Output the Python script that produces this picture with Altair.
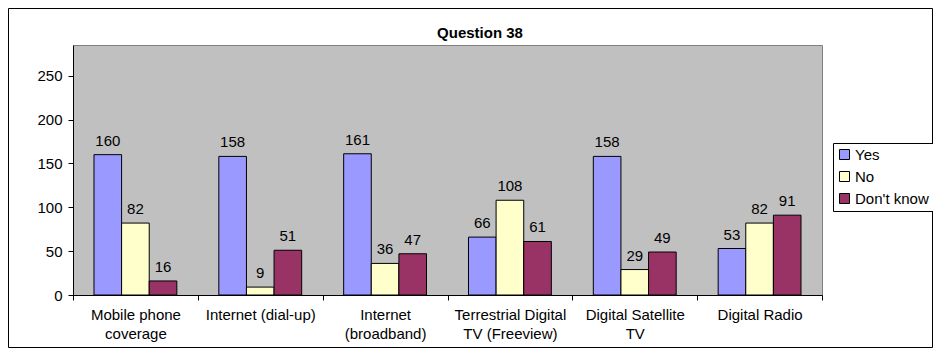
import altair as alt
import pandas as pd

categories = [
    "Mobile phone|coverage",
    "Internet (dial-up)",
    "Internet|(broadband)",
    "Terrestrial Digital|TV (Freeview)",
    "Digital Satellite|TV",
    "Digital Radio",
]
series = ["Yes", "No", "Don't know"]
yes_vals = [160, 158, 161, 66, 158, 53]
no_vals = [82, 9, 36, 108, 29, 82]
dk_vals = [16, 51, 47, 61, 49, 91]
colors = ["#9999FF", "#FFFFCC", "#993366"]
y_ticks = [0, 50, 100, 150, 200, 250]
title_text = "Question 38"

rows = []
for s, vals in zip(series, [yes_vals, no_vals, dk_vals]):
    for c, v in zip(categories, vals):
        rows.append({"category": c, "series": s, "value": v})
df = pd.DataFrame(rows)

FONT = "Liberation Sans"
W, H = 749, 250
PL, PT, PR, PB = 65, 37, 111, 53

x_enc = alt.X(
    "category:N",
    sort=categories,
    scale=alt.Scale(paddingInner=0, paddingOuter=0),
    axis=alt.Axis(
        title=None,
        labelAngle=0,
        labelExpr="split(datum.label, '|')",
        labelFont=FONT,
        labelFontSize=15,
        labelColor="black",
        labelLineHeight=19,
        labelPadding=7,
        labelBaseline="top",
        tickBand="extent",
        tickSize=5,
        tickColor="black",
        domainColor="black",
        labelLimit=200,
    ),
)
xoff_enc = alt.XOffset(
    "series:N",
    sort=series,
    scale=alt.Scale(paddingInner=0, paddingOuter=0.76),
)
y_enc = alt.Y(
    "value:Q",
    scale=alt.Scale(domain=[0, 285], nice=False),
    axis=alt.Axis(
        title=None,
        values=y_ticks,
        grid=False,
        labelFont=FONT,
        labelFontSize=15,
        labelColor="black",
        labelPadding=6,
        tickSize=5,
        tickColor="black",
        domainColor="black",
    ),
)

bars = alt.Chart(df).mark_bar(stroke="black", strokeWidth=1).encode(
    x=x_enc,
    xOffset=xoff_enc,
    y=y_enc,
    color=alt.Color(
        "series:N",
        sort=series,
        scale=alt.Scale(domain=series, range=colors),
        legend=alt.Legend(
            title=None,
            orient="none",
            legendX=760,
            legendY=98,
            direction="vertical",
            symbolType="square",
            symbolSize=100,
            symbolStrokeColor="black",
            symbolStrokeWidth=1,
            labelFont=FONT,
            labelFontSize=15,
            labelColor="black",
            labelOffset=3,
            rowPadding=6,
            padding=4,
            strokeColor="black",
            fillColor="white",
            labelLimit=200,
        ),
    ),
)

labels = alt.Chart(df).mark_text(
    font=FONT, fontSize=15, color="black", baseline="alphabetic", dy=-9
).encode(
    x=alt.X("category:N", sort=categories),
    xOffset=alt.XOffset("series:N", sort=series),
    y=alt.Y("value:Q"),
    text=alt.Text("value:Q"),
)

one_df = pd.DataFrame({"k": [0]})
frame = alt.Chart(one_df).mark_rect(
    fill=None, stroke="black", strokeWidth=1, clip=False
).encode(
    x=alt.value(-PL + 0.5),
    x2=alt.value(W + PR - 0.5),
    y=alt.value(-PT + 0.5),
    y2=alt.value(H + PB - 0.5),
)

title = alt.Chart(one_df).mark_text(
    font=FONT, fontSize=15, fontWeight="bold", color="black",
    baseline="alphabetic", align="center",
).encode(
    x=alt.value(407),
    y=alt.value(-7),
    text=alt.value(title_text),
)

chart = (
    alt.layer(frame, bars, labels, title)
    .properties(
        width=W,
        height=H,
        background="white",
        autosize=alt.AutoSizeParams(type="none"),
        padding={"left": PL, "top": PT, "right": PR, "bottom": PB},
    )
    .configure_view(fill="#C0C0C0", stroke="#808080", strokeWidth=1)
)

chart.save("out.html", embed_options={"renderer": "svg", "actions": False})
